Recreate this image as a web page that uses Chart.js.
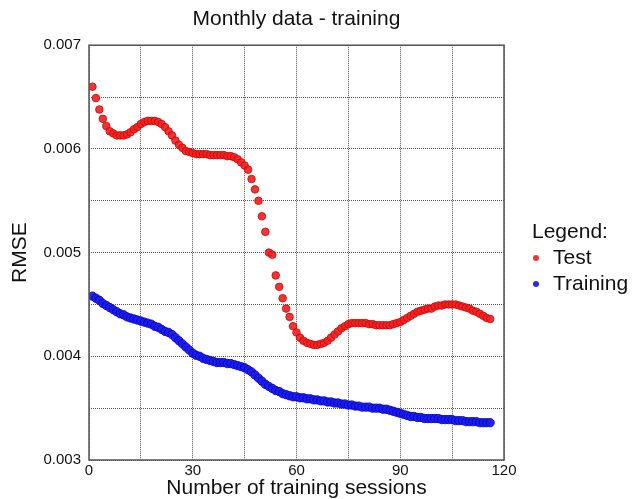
<!DOCTYPE html>
<html>
<head>
<meta charset="utf-8">
<title>Monthly data - training</title>
<script src="https://cdn.jsdelivr.net/npm/chart.js@4/dist/chart.umd.min.js"></script>
<style>
  html, body { margin: 0; padding: 0; background: #fff; }
  #wrap { width: 632px; height: 499px; }
</style>
</head>
<body>
<div id="wrap"><canvas id="chart" width="632" height="499"></canvas></div>
<script>
// training sessions 1..116
var sessions = [];
for (var s = 1; s <= 116; s++) sessions.push(s);

// values, one per session
var testRmse = [
  0.00660, 0.00649, 0.00638, 0.00629, 0.00622, 0.00617, 0.00615, 0.00613, 0.00613, 0.00613,
  0.00614, 0.00616, 0.00619, 0.00621, 0.00624, 0.00626, 0.00627, 0.00627, 0.00627, 0.00626,
  0.00624, 0.00621, 0.00617, 0.00613, 0.00608, 0.00604, 0.00601, 0.00598, 0.00597, 0.00596,
  0.00595, 0.00595, 0.00595, 0.00595, 0.00594, 0.00594, 0.00594, 0.00594, 0.00594, 0.00593,
  0.00593, 0.00592, 0.00590, 0.00587, 0.00584, 0.00580, 0.00571, 0.00561, 0.00550, 0.00535,
  0.00520, 0.00500, 0.00498, 0.00478, 0.00467, 0.00456, 0.00446, 0.00438, 0.00429, 0.00423,
  0.00418, 0.00415, 0.00413, 0.00412, 0.00411, 0.00411, 0.00412, 0.00413, 0.00415, 0.00418,
  0.00421, 0.00424, 0.00427, 0.00429, 0.00431, 0.00432, 0.00432, 0.00432, 0.00432, 0.00432,
  0.00431, 0.00431, 0.00430, 0.00430, 0.00430, 0.00430, 0.00430, 0.00431, 0.00432, 0.00433,
  0.00435, 0.00437, 0.00439, 0.00441, 0.00443, 0.00444, 0.00445, 0.00446, 0.00446, 0.00448,
  0.00449, 0.00449, 0.00450, 0.00450, 0.00450, 0.00450, 0.00449, 0.00448, 0.00447, 0.00446,
  0.00444, 0.00443, 0.00441, 0.00439, 0.00437, 0.00436
];

var trainRmse = [
  0.00458, 0.00456, 0.00454, 0.00451, 0.00449, 0.00447, 0.00445, 0.00443, 0.00441, 0.00440,
  0.00438, 0.00437, 0.00436, 0.00435, 0.00434, 0.00433, 0.00432, 0.00431, 0.00429, 0.00428,
  0.00426, 0.00424, 0.00423, 0.00421, 0.00418, 0.00415, 0.00412, 0.00409, 0.00406, 0.00403,
  0.00401, 0.00400, 0.00398, 0.00397, 0.00396, 0.00395, 0.00394, 0.00394, 0.00394, 0.00393,
  0.00393, 0.00392, 0.00391, 0.00390, 0.00389, 0.00387, 0.00385, 0.00382, 0.00379, 0.00376,
  0.00373, 0.00371, 0.00369, 0.00367, 0.00366, 0.00364, 0.00363, 0.00362, 0.00361, 0.00361,
  0.00360, 0.00360, 0.00359, 0.00359, 0.00358, 0.00358, 0.00357, 0.00357, 0.00356, 0.00356,
  0.00355, 0.00355, 0.00354, 0.00354, 0.00353, 0.00353, 0.00352, 0.00352, 0.00351, 0.00351,
  0.00351, 0.00350, 0.00350, 0.00350, 0.00349, 0.00349, 0.00348, 0.00347, 0.00346, 0.00345,
  0.00344, 0.00343, 0.00342, 0.00342, 0.00341, 0.00341, 0.00340, 0.00340, 0.00340, 0.00340,
  0.00340, 0.00339, 0.00339, 0.00339, 0.00339, 0.00338, 0.00338, 0.00338, 0.00337, 0.00337,
  0.00337, 0.00337, 0.00336, 0.00336, 0.00336, 0.00336
];

var seriesNames = ['Test', 'Training'];

function toPoints(ys) {
  var pts = [];
  for (var i = 0; i < ys.length; i++) pts.push({ x: sessions[i], y: ys[i] });
  return pts;
}

var FONT = "'Liberation Sans', Arial, sans-serif";
var TEXT = '#111';

// frame round the plot + legend on the right
var framePlugin = {
  id: 'frame',
  afterDraw: function (chart) {
    var a = chart.chartArea;
    var ctx = chart.ctx;
    ctx.save();
    ctx.strokeStyle = '#555';
    ctx.lineWidth = 1.5;
    ctx.strokeRect(a.left, a.top, a.right - a.left, a.bottom - a.top);

    // legend
    ctx.fillStyle = TEXT;
    ctx.font = '21px ' + FONT;
    ctx.textBaseline = 'middle';
    ctx.textAlign = 'left';
    ctx.fillText('Legend:', 532, 232);
    var ds = chart.data.datasets;
    for (var i = 0; i < ds.length; i++) {
      var y = 258 + i * 26;
      ctx.beginPath();
      ctx.arc(536, y, 3, 0, Math.PI * 2);
      ctx.fillStyle = ds[i].backgroundColor;
      ctx.fill();
      ctx.fillStyle = TEXT;
      ctx.fillText(ds[i].label, 553, y);
    }
    ctx.restore();
  }
};

var ctx = document.getElementById('chart').getContext('2d');
var chart = new Chart(ctx, {
  type: 'scatter',
  data: {
    datasets: [
      {
        label: seriesNames[0],
        data: toPoints(testRmse),
        backgroundColor: 'rgba(238,36,36,0.92)',
        borderColor: '#d40000',
        borderWidth: 0.8,
        pointRadius: 3.8
      },
      {
        label: seriesNames[1],
        data: toPoints(trainRmse),
        backgroundColor: 'rgba(28,28,235,0.95)',
        borderColor: '#0000c8',
        borderWidth: 0.8,
        pointRadius: 4.2
      }
    ]
  },
  options: {
    responsive: false,
    animation: false,
    layout: { padding: { left: 0, right: 128, top: 0, bottom: 0 } },
    plugins: {
      legend: { display: false },
      tooltip: { enabled: false },
      title: {
        display: true,
        text: 'Monthly data - training',
        fullSize: false,
        color: TEXT,
        font: { family: FONT, size: 21, weight: 'normal', lineHeight: 1.2 },
        padding: { top: 7, bottom: 13 }
      }
    },
    scales: {
      x: {
        type: 'linear',
        min: 0,
        max: 120,
        afterFit: function (scale) { scale.height = 39; },
        ticks: {
          stepSize: 15,
          padding: 2,
          color: TEXT,
          font: { family: FONT, size: 15 },
          maxRotation: 0,
          callback: function (v) { return v % 30 === 0 ? String(v) : ''; }
        },
        grid: { color: '#555', lineWidth: 1, drawTicks: false },
        border: { display: false, dash: [1, 1] },
        title: {
          display: true,
          text: 'Number of training sessions',
          color: TEXT,
          font: { family: FONT, size: 21, lineHeight: 1 },
          padding: { top: 0, bottom: 0 }
        }
      },
      y: {
        type: 'linear',
        min: 0.003,
        max: 0.007,
        afterFit: function (scale) { scale.width = 89; },
        ticks: {
          stepSize: 0.0005,
          padding: 8,
          color: TEXT,
          font: { family: FONT, size: 15 },
          callback: function (v) {
            return Math.round(v * 2000) % 2 === 0 ? v.toFixed(3) : '';
          }
        },
        grid: { color: '#555', lineWidth: 1, drawTicks: false },
        border: { display: false, dash: [1, 1] },
        title: {
          display: true,
          text: 'RMSE',
          color: TEXT,
          font: { family: FONT, size: 21, lineHeight: 1 },
          padding: { top: 10, bottom: 0 }
        }
      }
    }
  },
  plugins: [framePlugin]
});
</script>
</body>
</html>
